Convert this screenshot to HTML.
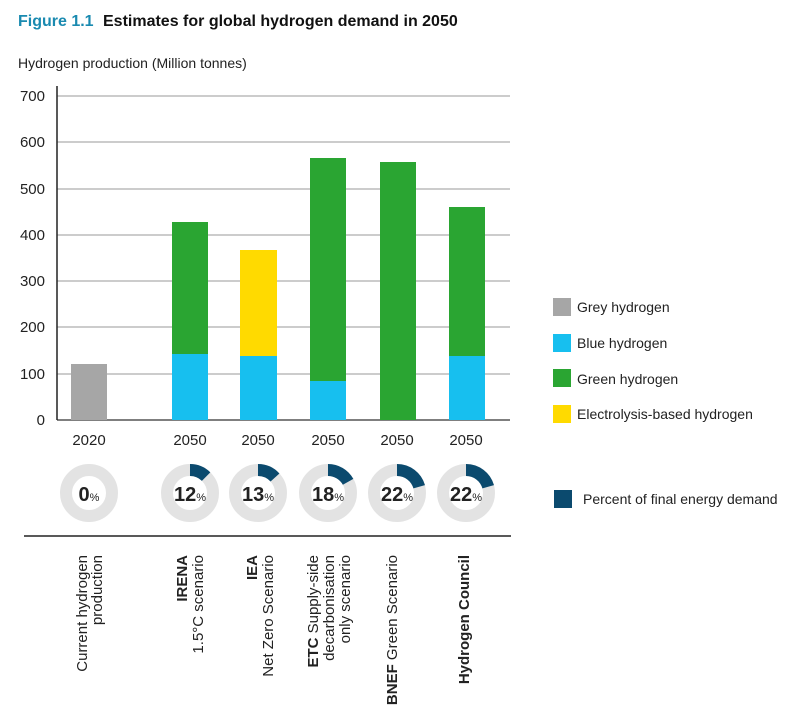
<!DOCTYPE html>
<html><head><meta charset="utf-8"><style>
html,body{margin:0;padding:0;background:#fff;}
svg{display:block;font-family:"Liberation Sans",sans-serif;}
</style></head><body>
<svg width="800" height="709" viewBox="0 0 800 709" xmlns="http://www.w3.org/2000/svg">
<text x="18" y="26" font-size="16" font-weight="bold" fill="#1a8ab0">Figure 1.1</text>
<text x="103" y="26" font-size="16" font-weight="bold" fill="#111">Estimates for global hydrogen demand in 2050</text>
<text x="18" y="68" font-size="14" fill="#222">Hydrogen production (Million tonnes)</text>
<g stroke="#9a9a9a" stroke-width="1">
<line x1="57" y1="96" x2="510" y2="96"/><line x1="57" y1="142" x2="510" y2="142"/>
<line x1="57" y1="189" x2="510" y2="189"/><line x1="57" y1="235" x2="510" y2="235"/>
<line x1="57" y1="281" x2="510" y2="281"/><line x1="57" y1="327" x2="510" y2="327"/>
<line x1="57" y1="374" x2="510" y2="374"/>
</g>
<line x1="57" y1="420" x2="510" y2="420" stroke="#333" stroke-width="1.2"/>
<line x1="57" y1="86" x2="57" y2="420" stroke="#222" stroke-width="1.5"/>
<g font-size="15" fill="#222" text-anchor="end">
<text x="45" y="101">700</text><text x="45" y="147">600</text><text x="45" y="194">500</text>
<text x="45" y="240">400</text><text x="45" y="286">300</text><text x="45" y="332">200</text>
<text x="45" y="379">100</text><text x="45" y="425">0</text>
</g>
<rect x="71" y="364" width="36" height="56" fill="#a6a6a6"/>
<rect x="172" y="354" width="36" height="66" fill="#17bfef"/><rect x="172" y="222" width="36" height="132" fill="#2aa532"/>
<rect x="240" y="356" width="37" height="64" fill="#17bfef"/><rect x="240" y="250" width="37" height="106" fill="#ffda00"/>
<rect x="310" y="381" width="36" height="39" fill="#17bfef"/><rect x="310" y="158" width="36" height="223" fill="#2aa532"/>
<rect x="380" y="162" width="36" height="258" fill="#2aa532"/>
<rect x="449" y="356" width="36" height="64" fill="#17bfef"/><rect x="449" y="207" width="36" height="149" fill="#2aa532"/>
<g font-size="15" fill="#222" text-anchor="middle">
<text x="89" y="445">2020</text><text x="190" y="445">2050</text><text x="258" y="445">2050</text>
<text x="328" y="445">2050</text><text x="397" y="445">2050</text><text x="466" y="445">2050</text>
</g>
<g fill="none" stroke="#e3e3e3" stroke-width="12">
<circle cx="89" cy="493" r="23"/><circle cx="190" cy="493" r="23"/><circle cx="258" cy="493" r="23"/>
<circle cx="328" cy="493" r="23"/><circle cx="397" cy="493" r="23"/><circle cx="466" cy="493" r="23"/>
</g>
<g fill="none" stroke="#0b4a6e" stroke-width="12">
<path d="M190 470 A23 23 0 0 1 206.1 476.6"/>
<path d="M258 470 A23 23 0 0 1 275.0 477.5"/>
<path d="M328 470 A23 23 0 0 1 348.1 481.8"/>
<path d="M397 470 A23 23 0 0 1 419.2 486.8"/>
<path d="M466 470 A23 23 0 0 1 488.2 486.8"/>
</g>
<g font-size="20" font-weight="bold" fill="#222" text-anchor="middle">
<text x="89" y="501">0<tspan font-size="11" font-weight="normal">%</tspan></text>
<text x="190" y="501">12<tspan font-size="11" font-weight="normal">%</tspan></text>
<text x="258" y="501">13<tspan font-size="11" font-weight="normal">%</tspan></text>
<text x="328" y="501">18<tspan font-size="11" font-weight="normal">%</tspan></text>
<text x="397" y="501">22<tspan font-size="11" font-weight="normal">%</tspan></text>
<text x="466" y="501">22<tspan font-size="11" font-weight="normal">%</tspan></text>
</g>
<line x1="24" y1="536" x2="511" y2="536" stroke="#222" stroke-width="1.5"/>
<g font-size="15" fill="#222" text-anchor="end">
<text transform="translate(87,555) rotate(-90)">Current hydrogen</text>
<text transform="translate(102,555) rotate(-90)">production</text>
<text transform="translate(187,555) rotate(-90)" font-weight="bold">IRENA</text>
<text transform="translate(203,555) rotate(-90)">1.5°C scenario</text>
<text transform="translate(257,555) rotate(-90)" font-weight="bold">IEA</text>
<text transform="translate(273,555) rotate(-90)">Net Zero Scenario</text>
<text transform="translate(318,555) rotate(-90)"><tspan font-weight="bold">ETC</tspan> Supply-side</text>
<text transform="translate(334,555) rotate(-90)">decarbonisation</text>
<text transform="translate(350,555) rotate(-90)">only scenario</text>
<text transform="translate(397,555) rotate(-90)"><tspan font-weight="bold">BNEF</tspan> Green Scenario</text>
<text transform="translate(469,555) rotate(-90)" font-weight="bold">Hydrogen Council</text>
</g>
<rect x="553" y="298" width="18" height="18" fill="#a6a6a6"/>
<rect x="553" y="334" width="18" height="18" fill="#17bfef"/>
<rect x="553" y="369" width="18" height="18" fill="#2aa532"/>
<rect x="553" y="405" width="18" height="18" fill="#ffda00"/>
<rect x="554" y="490" width="18" height="18" fill="#0b4a6e"/>
<g font-size="14" fill="#222">
<text x="577" y="312">Grey hydrogen</text>
<text x="577" y="348">Blue hydrogen</text>
<text x="577" y="384">Green hydrogen</text>
<text x="577" y="419">Electrolysis-based hydrogen</text>
<text x="583" y="504">Percent of final energy demand</text>
</g>
</svg>
</body></html>
